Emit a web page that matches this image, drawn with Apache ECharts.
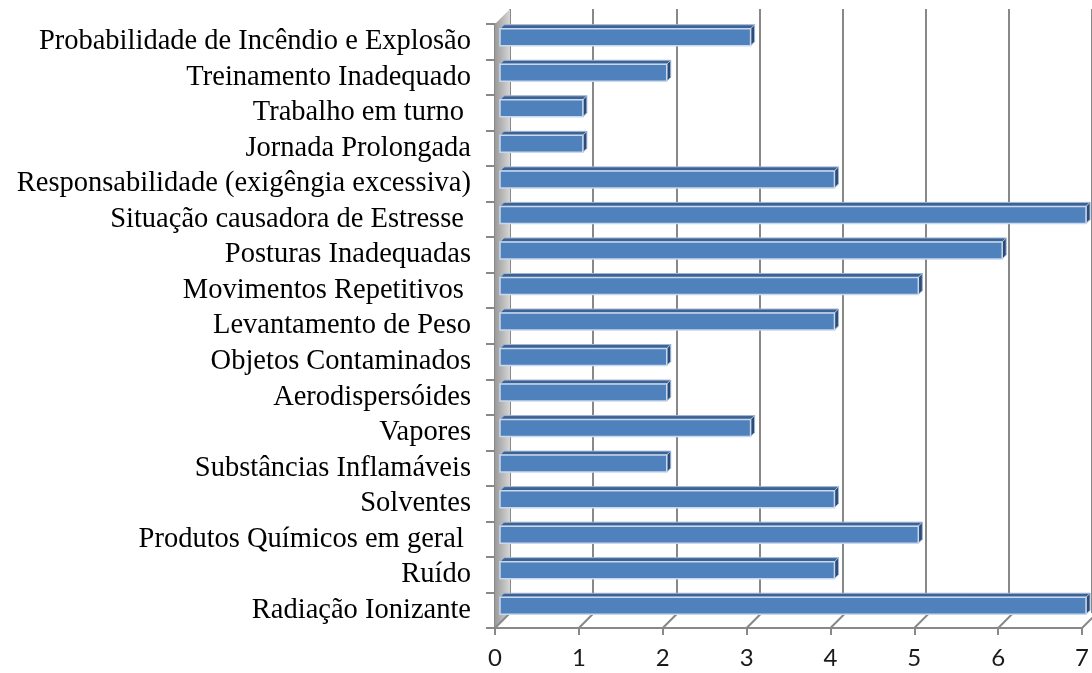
<!DOCTYPE html>
<html><head><meta charset="utf-8">
<script src="https://cdn.jsdelivr.net/npm/echarts@6/dist/echarts.min.js"></script>
<style>html,body{margin:0;padding:0;background:#fff}#c{width:1092px;height:673px}</style>
</head><body><div id="c"></div>
<script>
// categories listed top to bottom as in the picture
const categories = [
  'Probabilidade de Incêndio e Explosão',
  'Treinamento Inadequado',
  'Trabalho em turno ',
  'Jornada Prolongada',
  'Responsabilidade (exigêngia excessiva)',
  'Situação causadora de Estresse ',
  'Posturas Inadequadas',
  'Movimentos Repetitivos ',
  'Levantamento de Peso',
  'Objetos Contaminados',
  'Aerodispersóides',
  'Vapores',
  'Substâncias Inflamáveis',
  'Solventes',
  'Produtos Químicos em geral ',
  'Ruído',
  'Radiação Ionizante'
];
const values = [3, 2, 1, 1, 4, 7, 6, 5, 4, 2, 2, 3, 2, 4, 5, 4, 7];
const xTicks = [0, 1, 2, 3, 4, 5, 6, 7];

const DX = 15, DY = -15;   // 3D depth of the back wall
const GRAY = '#888888';

const chart = echarts.init(document.getElementById('c'), null, {renderer: 'canvas'});

const option = {
  animation: false,
  grid: [
    {left: 510, top: 9, width: 588, height: 604},
    {left: 495, top: 24, width: 588, height: 604}
  ],
  xAxis: [
    {gridIndex: 0, type: 'value', min: xTicks[0], max: xTicks[xTicks.length - 1], interval: 1,
      axisLine: {show: false}, axisTick: {show: false}, axisLabel: {show: false},
      splitLine: {show: true, lineStyle: {color: GRAY, width: 2}}},
    {gridIndex: 1, type: 'value', min: xTicks[0], max: xTicks[xTicks.length - 1], interval: 1,
      axisLine: {show: true, lineStyle: {color: GRAY, width: 2}},
      axisTick: {show: true, length: 7, lineStyle: {color: GRAY, width: 2}},
      axisLabel: {fontFamily: 'Lato', fontSize: 24, color: '#1a1a1a', margin: 18},
      splitLine: {show: false}}
  ],
  yAxis: [
    {gridIndex: 0, type: 'category', data: categories, inverse: true, show: false},
    {gridIndex: 1, type: 'category', data: categories, inverse: true,
      axisLine: {show: true, lineStyle: {color: GRAY, width: 2}},
      axisTick: {show: true, length: 9, lineStyle: {color: GRAY, width: 2}},
      axisLabel: {interval: 0, fontFamily: 'Liberation Serif', fontSize: 28.5, color: '#000',
        margin: 24, padding: [7, 0, 0, 0]}}
  ],
  series: [
    {
      type: 'custom', xAxisIndex: 1, yAxisIndex: 1, z: 1, silent: true,
      data: [[0, 0]],
      renderItem: function (params, api) {
        const first = api.coord([0, 0]);
        const bandH = api.size([0, 1])[1];
        const top = first[1] - bandH / 2;
        const bottom = top + bandH * categories.length;
        const x = first[0];
        const children = [{
          type: 'polygon',
          shape: {points: [[x, top], [x + DX, top + DY], [x + DX, bottom + DY], [x, bottom]]},
          style: {fill: new echarts.graphic.LinearGradient(0, 0, 1, 0, [
            {offset: 0, color: '#9a9a9a'}, {offset: 1, color: '#d6d6d6'}]), stroke: null}
        }];
        xTicks.forEach(function (t) {
          const px = api.coord([t, 0])[0];
          children.push({type: 'line', shape: {x1: px, y1: bottom, x2: px + DX, y2: bottom + DY},
            style: {stroke: GRAY, lineWidth: 2}});
        });
        return {type: 'group', children: children};
      }
    },
    {
      type: 'custom', xAxisIndex: 1, yAxisIndex: 1, z: 3,
      data: values.map(function (v, i) { return [v, i]; }),
      renderItem: function (params, api) {
        const v = api.value(0), i = api.value(1);
        const c0 = api.coord([0, i]);
        const c1 = api.coord([v, i]);
        const x0 = c0[0] + 5, x1 = c1[0] + 4;
        const yc = c0[1] - 4.5, h = 17, d = 4;
        const yT = yc - h / 2, yB = yc + h / 2;
        return {type: 'group', children: [
          {type: 'polygon', shape: {points: [[x0, yT], [x0 + d, yT - d], [x1 + d, yT - d], [x1, yT]]},
            style: {fill: '#3c6394', stroke: '#9fb6d6', lineWidth: 1}},
          {type: 'polygon', shape: {points: [[x1, yT], [x1 + d, yT - d], [x1 + d, yB - d], [x1, yB]]},
            style: {fill: '#2c4c78', stroke: '#9fb6d6', lineWidth: 1}},
          {type: 'rect', shape: {x: x0, y: yT, width: x1 - x0, height: h},
            style: {fill: '#4f81bd', stroke: '#c9d8ec', lineWidth: 1.5}}
        ]};
      }
    }
  ]
};
chart.setOption(option);
</script>
</body></html>
